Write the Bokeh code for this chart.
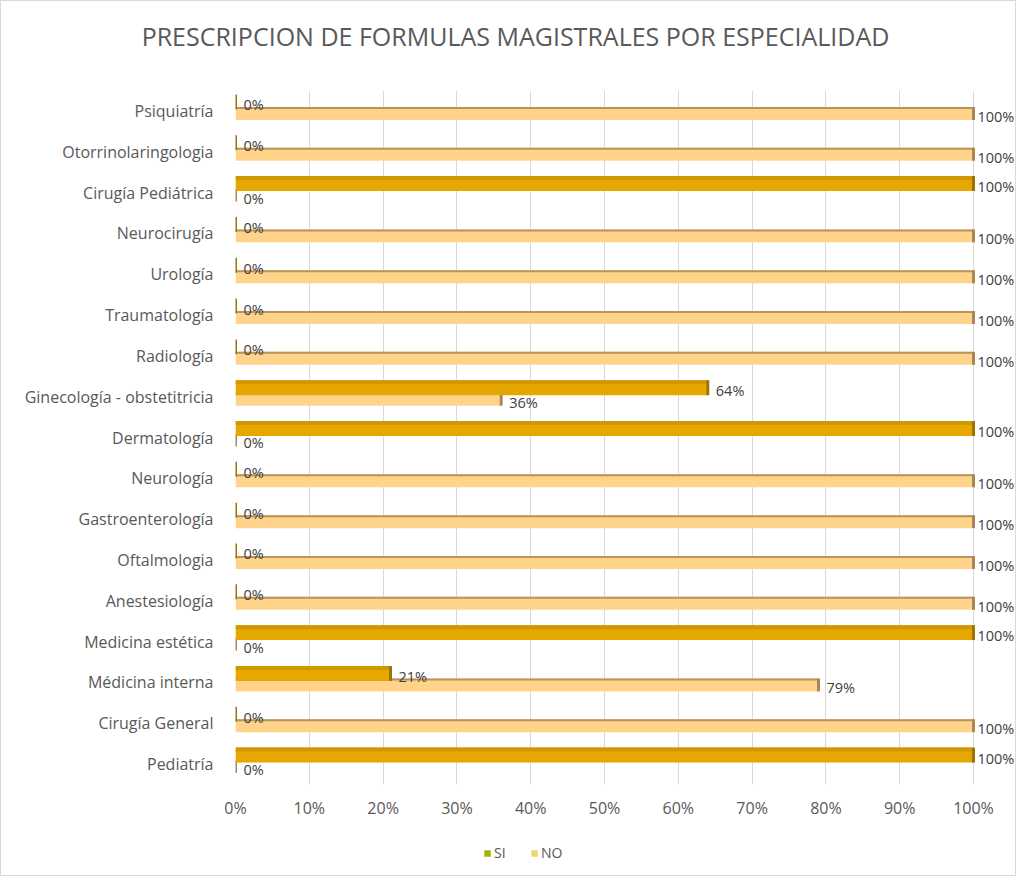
from bokeh.plotting import figure
from bokeh.layouts import column
from bokeh.models import (ColumnDataSource, FactorRange, Range1d, FixedTicker,
                          PrintfTickFormatter, Legend, LegendItem)
from bokeh.transform import dodge
from bokeh.core.properties import value
from bokeh.embed import file_html
from bokeh.resources import INLINE

# ---------------- data ----------------
title_text = "PRESCRIPCION DE FORMULAS MAGISTRALES POR ESPECIALIDAD"
categories = ["Psiquiatría", "Otorrinolaringologia", "Cirugía Pediátrica", "Neurocirugía",
              "Urología", "Traumatología", "Radiología", "Ginecología - obstetitricia",
              "Dermatología", "Neurología", "Gastroenterología", "Oftalmologia",
              "Anestesiología", "Medicina estética", "Médicina interna", "Cirugía General",
              "Pediatría"]
si_values = [0, 0, 100, 0, 0, 0, 0, 64, 100, 0, 0, 0, 0, 100, 21, 0, 100]
no_values = [100, 100, 0, 100, 100, 100, 100, 36, 0, 100, 100, 100, 100, 0, 79, 100, 0]
x_ticks = [0, 10, 20, 30, 40, 50, 60, 70, 80, 90, 100]
series_names = ["SI", "NO"]

FONT = "Open Sans"
UNIT = 40.9           # px per category
PX_PER_PCT = 7.38     # px per percent
W = 1014
FRAME_LEFT = 234

def off(px):
    return px / UNIT

src = ColumnDataSource(dict(
    cat=categories, si=si_values, no=no_values,
    si_lbl=[f"{v}%" for v in si_values], no_lbl=[f"{v}%" for v in no_values],
    si_dx=[4 if v >= 100 else 8 for v in si_values],
    no_dx=[4 if v >= 100 else 8 for v in no_values],
))

# ---------------- title strip ----------------
head = figure(width=W, height=60, x_range=Range1d(0, W), y_range=Range1d(0, 60),
              output_backend="svg", toolbar_location=None,
              min_border_left=0, min_border_right=0, min_border_top=0, min_border_bottom=0)
head.frame_align = False
head.axis.visible = False
head.grid.visible = False
head.outline_line_color = None
head.background_fill_color = "white"
head.border_fill_color = "white"
head.text(x=[W / 2 + 7], y=[26], text=[title_text],
          text_align="center", text_baseline="middle",
          text_font=value(FONT), text_font_size="25px", text_color="#595959")

# ---------------- main chart ----------------
fig = figure(width=W, height=780,
             y_range=FactorRange(*categories[::-1]),
             x_range=Range1d(0, 100 + 42 / PX_PER_PCT),
             output_backend="svg", toolbar_location=None,
             min_border_left=FRAME_LEFT, min_border_right=0, min_border_top=29, min_border_bottom=57)
fig.background_fill_color = "white"
fig.border_fill_color = "white"
fig.outline_line_color = None

fig.ygrid.grid_line_color = None
fig.xgrid.grid_line_color = "#D9D9D9"
fig.xgrid.ticker = FixedTicker(ticks=x_ticks)
fig.xaxis.ticker = FixedTicker(ticks=x_ticks)
fig.xaxis.formatter = PrintfTickFormatter(format="%d%%")
for ax in (fig.xaxis, fig.yaxis):
    ax.axis_line_color = None
    ax.major_tick_line_color = None
    ax.minor_tick_line_color = None
    ax.major_label_text_font = FONT
    ax.major_label_text_font_size = "16px"
    ax.major_label_text_color = "#595959"
fig.xaxis.major_label_standoff = 6
fig.yaxis.major_label_standoff = 16

SI_C, SI_H = off(9.0), off(15)
NO_C, NO_H = off(-2.5), off(13)

# NO bars
fig.hbar(y=dodge("cat", NO_C, range=fig.y_range), left=0, right="no", height=NO_H,
         source=src, fill_color="#FFD48A", line_color=None)
fig.hbar(y=dodge("cat", NO_C + NO_H / 2 - off(1), range=fig.y_range), left=0, right="no",
         height=off(2), source=src, fill_color="#B9925C", line_color=None)
fig.rect(x="no", y=dodge("cat", NO_C, range=fig.y_range), width=3, width_units="screen",
         height=NO_H, source=src, fill_color="#A9865A", line_color=None)

# SI bars
fig.hbar(y=dodge("cat", SI_C, range=fig.y_range), left=0, right="si", height=SI_H,
         source=src, fill_color="#E6A700", line_color=None)
fig.hbar(y=dodge("cat", SI_C + SI_H / 2 - off(2), range=fig.y_range), left=0, right="si",
         height=off(4), source=src, fill_color="#CF9700", line_color=None)
fig.rect(x="si", y=dodge("cat", SI_C, range=fig.y_range), width=3, width_units="screen",
         height=SI_H, source=src, fill_color="#9A7608", line_color=None)

# value labels
fig.text(x="si", y=dodge("cat", off(6), range=fig.y_range), text="si_lbl", source=src,
         x_offset="si_dx", text_align="left", text_baseline="middle",
         text_font=value(FONT), text_font_size="14.5px", text_color="#404040")
fig.text(x="no", y=dodge("cat", off(-5.5), range=fig.y_range), text="no_lbl", source=src,
         x_offset="no_dx", text_align="left", text_baseline="middle",
         text_font=value(FONT), text_font_size="14.5px", text_color="#404040")

# ---------------- legend strip ----------------
leg = figure(width=W, height=34, x_range=Range1d(0, 1), y_range=Range1d(0, 1),
             output_backend="svg", toolbar_location=None,
             min_border_left=FRAME_LEFT, min_border_right=0, min_border_top=0, min_border_bottom=0)
leg.axis.visible = False
leg.grid.visible = False
leg.outline_line_color = None
leg.background_fill_color = "white"
leg.border_fill_color = "white"
# legend colours as shown in the reference legend; dummy quads lie outside the range
r_si = leg.quad(left=[-5], right=[-4], bottom=[-5], top=[-4], fill_color="#A3B400", line_color=None)
r_no = leg.quad(left=[-5], right=[-4], bottom=[-5], top=[-4], fill_color="#EFD46E", line_color=None)
legend = Legend(items=[LegendItem(label=series_names[0], renderers=[r_si]),
                       LegendItem(label=series_names[1], renderers=[r_no])],
                orientation="horizontal", location=(248, 13),
                label_text_font=FONT, label_text_font_size="14px", label_text_color="#595959",
                glyph_width=8, glyph_height=8, label_standoff=3, spacing=16,
                border_line_color=None, background_fill_alpha=0, padding=0, margin=0)
leg.add_layout(legend, "center")

p = column(head, fig, leg, spacing=0)
p.styles = {"border": "1px solid #D9D9D9"}

open("out.html", "w").write(file_html(p, INLINE))
